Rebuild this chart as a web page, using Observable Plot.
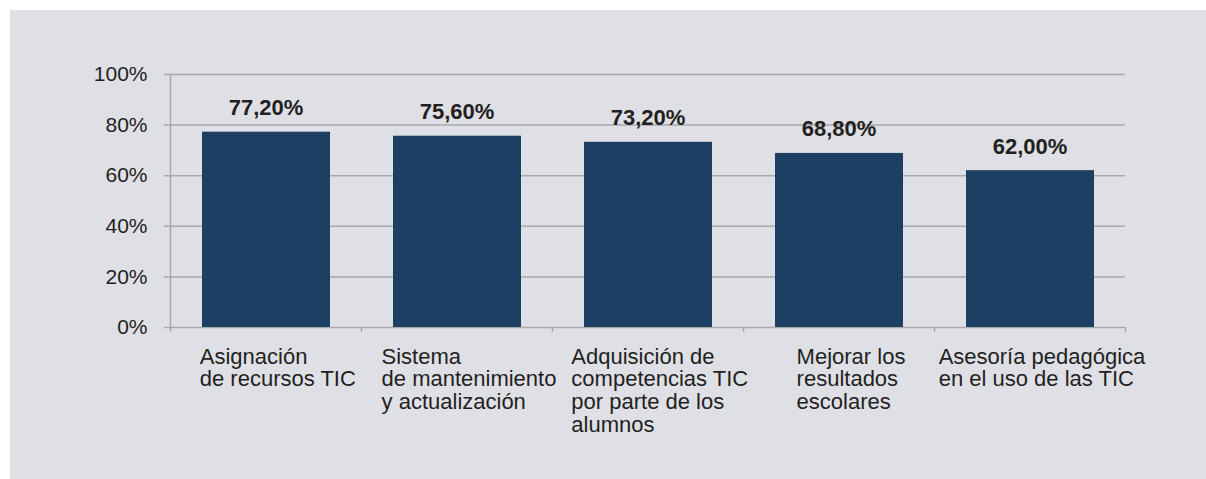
<!DOCTYPE html>
<html>
<head>
<meta charset="utf-8">
<script src="https://cdn.jsdelivr.net/npm/d3@7"></script>
<script src="https://cdn.jsdelivr.net/npm/@observablehq/plot@0.6"></script>
<style>
  html, body { margin: 0; padding: 0; background: #ffffff; }
  #panel { position: absolute; left: 10px; top: 10px; width: 1196px; height: 469px; background: #dfe0e5; }
  svg { display: block; }
</style>
</head>
<body>
<div id="panel"></div>
<script>
const categories = [
  "Asignación\nde recursos TIC",
  "Sistema\nde mantenimiento\ny actualización",
  "Adquisición de\ncompetencias TIC\npor parte de los\nalumnos",
  "Mejorar los\nresultados\nescolares",
  "Asesoría pedagógica\nen el uso de las TIC"
];
const values = [77.2, 75.6, 73.2, 68.8, 62.0];
const valueLabels = ["77,20%", "75,60%", "73,20%", "68,80%", "62,00%"];
const yTicks = [0, 20, 40, 60, 80, 100];

const data = categories.map((c, i) => ({cat: c, value: values[i], label: valueLabels[i]}));

const W = 1196, H = 469;
const mL = 160, mR = 81, mT = 64, mB = 152;
const step = (W - mL - mR) / categories.length;
const font = "Liberation Sans, Arial, Helvetica, sans-serif";
const textColor = "#231f20";
const gridColor = "#a9a9ab";

// measure label block widths
const ctx = document.createElement("canvas").getContext("2d");
ctx.font = "22px 'Liberation Sans'";
const blockW = categories.map(c => Math.max(...c.split("\n").map(l => ctx.measureText(l).width)));

const labelMarks = categories.map((c, i) =>
  Plot.text([c], {
    x: d => d, y: () => 0, text: d => d,
    textAnchor: "start", lineAnchor: "top", lineHeight: 1.03,
    dx: -blockW[i] / 2 + 12, dy: 20,
    fontSize: 22, fill: textColor
  })
);

const chart = Plot.plot({
  width: W, height: H,
  marginLeft: mL, marginRight: mR, marginTop: mT, marginBottom: mB,
  style: {fontFamily: font, background: "transparent", overflow: "visible"},
  x: {domain: categories, paddingInner: 0, paddingOuter: 0, axis: null},
  y: {domain: [0, 100], axis: null},
  marks: [
    Plot.ruleY(yTicks, {y: d => d, stroke: gridColor, strokeWidth: 1.5, insetLeft: -6}),
    Plot.text(yTicks, {y: d => d, text: d => d + "%", frameAnchor: "left", textAnchor: "end", dx: -23, fontSize: 21, fill: textColor}),
    Plot.frame({anchor: "left", stroke: gridColor, strokeWidth: 1.5}),
    Plot.ruleX(categories, {x: d => d, y1: 0, y2: -2, dx: -step / 2, stroke: gridColor, strokeWidth: 1.5}),
    Plot.ruleX(categories.slice(-1), {x: d => d, y1: 0, y2: -2, dx: step / 2, stroke: gridColor, strokeWidth: 1.5}),
    Plot.barY(data, {x: "cat", y: "value", fill: "#1d3f63", insetLeft: 32, insetRight: 31}),
    Plot.text(data, {x: "cat", y: "value", text: "label", lineAnchor: "bottom", dy: -17, fontSize: 22, fontWeight: "bold", fill: textColor}),
    ...labelMarks
  ]
});
document.getElementById("panel").appendChild(chart);
</script>
</body>
</html>
